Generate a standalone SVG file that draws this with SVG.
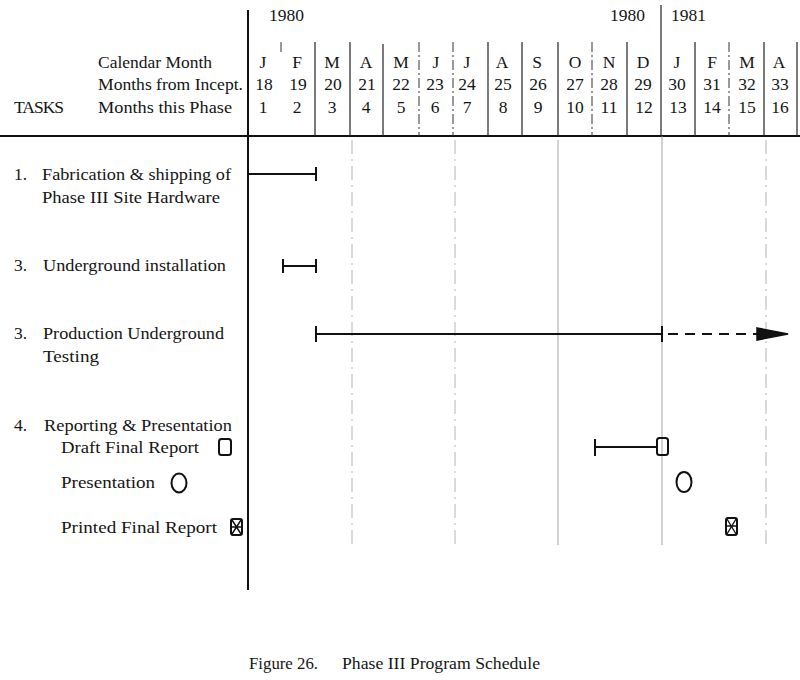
<svg xmlns="http://www.w3.org/2000/svg" width="800" height="680" viewBox="0 0 800 680">
<style>
text{font-family:"Liberation Serif","DejaVu Serif",serif;font-size:17.5px;fill:#151515}
.c{text-anchor:middle}
.hd{stroke:#222;stroke-width:1.2}
.hdd{stroke:#333;stroke-width:1;stroke-dasharray:10 3 2 3}
.grid{stroke:#999;stroke-width:0.9}
.gridd{stroke:#aaa;stroke-width:0.9;stroke-dasharray:14 5 2 5}
.bar{stroke:#111;stroke-width:2;fill:none}
.mk{stroke:#111;stroke-width:2;fill:none}
.cap{font-size:16.5px}
</style>
<rect width="800" height="680" fill="#fff"/>
<g id="frame">
<line x1="248" y1="10" x2="248" y2="590" stroke="#111" stroke-width="2"/>
<line x1="0" y1="136" x2="800" y2="136" stroke="#111" stroke-width="2.2"/>
<line x1="661" y1="5" x2="661" y2="136" class="hd"/>
</g>
<g id="header-dividers">
<line x1="281" y1="42" x2="281" y2="55" class="hdd" stroke="#aaa"/>
<line x1="315" y1="42" x2="315" y2="136" class="hd"/>
<line x1="350" y1="42" x2="350" y2="136" class="hd"/>
<line x1="383" y1="44" x2="383" y2="136" class="hd"/>
<line x1="419" y1="42" x2="419" y2="136" class="hdd"/>
<line x1="453" y1="42" x2="453" y2="136" class="hdd"/>
<line x1="488" y1="42" x2="488" y2="136" class="hd"/>
<line x1="522" y1="42" x2="522" y2="136" class="hd"/>
<line x1="558" y1="42" x2="558" y2="136" class="hd"/>
<line x1="592" y1="42" x2="592" y2="136" class="hdd"/>
<line x1="627" y1="42" x2="627" y2="136" class="hd"/>
<line x1="695" y1="42" x2="695" y2="136" class="hd"/>
<line x1="729" y1="42" x2="729" y2="136" class="hdd"/>
<line x1="764" y1="42" x2="764" y2="136" class="hd"/>
<line x1="797" y1="42" x2="797" y2="136" class="hd"/>
</g>
<g id="header-text">
<text x="269" y="21">1980</text>
<text x="610" y="21">1980</text>
<text x="671" y="21">1981</text>
<text x="98" y="68" textLength="114" lengthAdjust="spacingAndGlyphs">Calendar Month</text>
<text x="98" y="90" textLength="145" lengthAdjust="spacingAndGlyphs">Months from Incept.</text>
<text x="14" y="113" textLength="50">TASKS</text>
<text x="98" y="113" textLength="134" lengthAdjust="spacingAndGlyphs">Months this Phase</text>
<g class="c">
<text x="263" y="68">J</text><text x="297" y="68">F</text><text x="332" y="68">M</text><text x="366" y="68">A</text>
<text x="401" y="68">M</text><text x="436" y="68">J</text><text x="467" y="68">J</text><text x="502" y="68">A</text>
<text x="537" y="68">S</text><text x="575" y="68">O</text><text x="609" y="68">N</text><text x="643" y="68">D</text>
<text x="677" y="68">J</text><text x="712" y="68">F</text><text x="747" y="68">M</text><text x="779" y="68">A</text>
<text x="264" y="90">18</text><text x="298" y="90">19</text><text x="333" y="90">20</text><text x="367" y="90">21</text>
<text x="401" y="90">22</text><text x="435" y="90">23</text><text x="467" y="90">24</text><text x="503" y="90">25</text>
<text x="538" y="90">26</text><text x="575" y="90">27</text><text x="609" y="90">28</text><text x="643" y="90">29</text>
<text x="677" y="90">30</text><text x="712" y="90">31</text><text x="747" y="90">32</text><text x="780" y="90">33</text>
<text x="263" y="113">1</text><text x="297" y="113">2</text><text x="332" y="113">3</text><text x="366" y="113">4</text>
<text x="401" y="113">5</text><text x="435" y="113">6</text><text x="467" y="113">7</text><text x="503" y="113">8</text>
<text x="538" y="113">9</text><text x="575" y="113">10</text><text x="609" y="113">11</text><text x="644" y="113">12</text>
<text x="678" y="113">13</text><text x="712" y="113">14</text><text x="747" y="113">15</text><text x="780" y="113">16</text>
</g>
</g>
<g id="grid">
<line x1="352" y1="140" x2="352" y2="545" class="gridd"/>
<line x1="455" y1="140" x2="455" y2="545" class="gridd"/>
<line x1="558" y1="140" x2="558" y2="545" class="grid"/>
<line x1="662" y1="136" x2="662" y2="545" class="grid"/>
<line x1="766" y1="140" x2="766" y2="545" class="gridd"/>
</g>
<g id="task1">
<text x="14" y="180">1.</text>
<text x="42" y="180" textLength="189" lengthAdjust="spacingAndGlyphs">Fabrication &amp; shipping of</text>
<text x="42" y="203" textLength="178" lengthAdjust="spacingAndGlyphs">Phase III Site Hardware</text>
</g>
<g id="task2">
<text x="14" y="271">3.</text>
<text x="43" y="271" textLength="183" lengthAdjust="spacingAndGlyphs">Underground installation</text>
</g>
<g id="task3">
<text x="14" y="339">3.</text>
<text x="43" y="339" textLength="181" lengthAdjust="spacingAndGlyphs">Production Underground</text>
<text x="43" y="362" textLength="56" lengthAdjust="spacingAndGlyphs">Testing</text>
</g>
<g id="task4">
<text x="14" y="431">4.</text>
<text x="44" y="431" textLength="188" lengthAdjust="spacingAndGlyphs">Reporting &amp; Presentation</text>
<text x="61" y="453" textLength="138" lengthAdjust="spacingAndGlyphs">Draft Final Report</text>
<rect x="219" y="439" width="12" height="16" rx="2.5" class="mk"/>
<text x="61" y="488" textLength="94" lengthAdjust="spacingAndGlyphs">Presentation</text>
<ellipse cx="179" cy="483" rx="7.5" ry="9.5" class="mk"/>
<text x="61" y="533" textLength="156" lengthAdjust="spacingAndGlyphs">Printed Final Report</text>
<g id="legend-printed">
<rect x="231" y="519" width="11" height="16" rx="2" class="mk"/>
<path d="M232 520 L241 534 M241 520 L232 534 M232 527 H241" stroke="#111" stroke-width="1.4" fill="none"/>
</g>
</g>
<g id="connectors">
<path d="M248 174 H316 M316 167 V181" class="bar"/>
<path d="M283 266 H316 M283 259 V273 M316 259 V273" class="bar"/>
<path d="M316 334 H662 M316 326 V342 M662 326 V342" class="bar"/>
<path d="M668 334 H757" class="bar" stroke-width="1.8" stroke-dasharray="10 7"/>
<path d="M757 328 L788 334 L757 340 Z" fill="#111" stroke="#111" stroke-width="1.5"/>
<path d="M595 447 H657 M595 439 V456" class="bar"/>
</g>
<g id="milestones">
<rect x="657" y="438" width="11" height="17" rx="2.5" class="mk"/>
<ellipse cx="684" cy="482" rx="7.5" ry="10" class="mk"/>
<rect x="726" y="518" width="11" height="17" rx="2" class="mk"/>
<path d="M727 519 L736 534 M736 519 L727 534 M727 526 H736" stroke="#111" stroke-width="1.4" fill="none"/>
</g>
<g id="caption">
<text x="249" y="669" class="cap" textLength="69" lengthAdjust="spacingAndGlyphs">Figure 26.</text>
<text x="342" y="669" class="cap" textLength="198" lengthAdjust="spacingAndGlyphs">Phase III Program Schedule</text>
</g>
</svg>
